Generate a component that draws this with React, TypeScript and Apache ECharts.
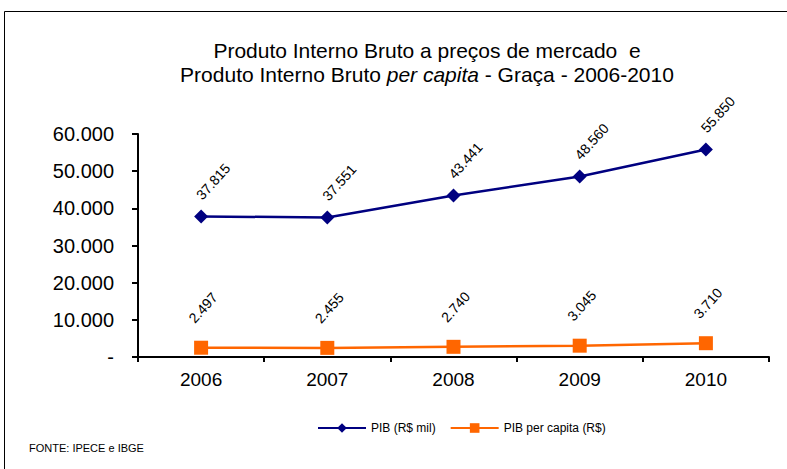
import React, { useEffect, useRef } from "react";
import * as echarts from "echarts";

const years = ["2006", "2007", "2008", "2009", "2010"];
const pibMil = [37815, 37551, 43441, 48560, 55850];
const pibPerCapita = [2497, 2455, 2740, 3045, 3710];
const yTicks = [0, 10000, 20000, 30000, 40000, 50000, 60000];

const fmt = (v: number) =>
  v === 0 ? "-" : String(Math.round(v)).replace(/\B(?=(\d{3})+(?!\d))/g, ".");

const FONT = "Liberation Sans, Arial, sans-serif";

const labelSeries = (values: number[], dx: number, dy: number) => ({
  type: "custom",
  silent: true,
  data: values.map((v, i) => [i, v]),
  renderItem: (_params: any, api: any) => {
    const p = api.coord([api.value(0), api.value(1)]);
    return {
      type: "text",
      x: p[0] + dx,
      y: p[1] + dy,
      rotation: (48 * Math.PI) / 180,
      style: {
        text: fmt(api.value(1)),
        font: `14px ${FONT}`,
        fill: "#000",
        align: "center",
        verticalAlign: "middle",
      },
    };
  },
  z: 5,
});

export default function App() {
  const ref = useRef<HTMLDivElement>(null);
  useEffect(() => {
    if (!ref.current) return;
    const chart = echarts.init(ref.current, undefined, { renderer: "svg" });
    chart.setOption({
      animation: false,
      backgroundColor: "#ffffff",
      textStyle: { fontFamily: FONT, color: "#000" },
      graphic: [
        {
          type: "rect",
          shape: { x: 4.5, y: 11.5, width: 800, height: 500 },
          style: { fill: "none", stroke: "#000", lineWidth: 1 },
          silent: true,
        },
        {
          type: "text",
          left: 29,
          top: 442,
          style: {
            text: "FONTE: IPECE e IBGE",
            font: `11px ${FONT}`,
            fill: "#000",
          },
        },
      ],
      title: {
        text: "Produto Interno Bruto a preços de mercado  e\nProduto Interno Bruto {i|per capita} - Graça - 2006-2010",
        left: 422,
        top: 33,
        textAlign: "center",
        textStyle: {
          fontFamily: FONT,
          fontSize: 21,
          fontWeight: "normal",
          color: "#000",
          lineHeight: 24,
          rich: {
            i: { fontFamily: FONT, fontSize: 21, fontStyle: "italic", color: "#000", lineHeight: 24 },
          },
        },
      },
      legend: {
        left: 312,
        top: 417,
        itemWidth: 48,
        itemHeight: 12,
        itemGap: 14,
        textStyle: { fontFamily: FONT, fontSize: 12, color: "#000" },
        data: ["PIB (R$ mil)", "PIB per capita (R$)"],
      },
      grid: { left: 138, right: 18, top: 134, bottom: 112 },
      xAxis: {
        type: "category",
        data: years,
        boundaryGap: true,
        axisLine: { lineStyle: { color: "#000", width: 2 } },
        axisTick: { show: true, length: 5, lineStyle: { color: "#000", width: 2 } },
        axisLabel: { fontFamily: FONT, fontSize: 19, color: "#000", margin: 13 },
      },
      yAxis: {
        type: "value",
        min: yTicks[0],
        max: yTicks[yTicks.length - 1],
        interval: 10000,
        axisLine: { show: true, lineStyle: { color: "#000", width: 2 } },
        axisTick: { show: true, length: 6, lineStyle: { color: "#000", width: 2 } },
        splitLine: { show: false },
        axisLabel: {
          fontFamily: FONT,
          fontSize: 20,
          color: "#000",
          margin: 24,
          formatter: (v: number) => fmt(v),
        },
      },
      series: [
        {
          name: "PIB (R$ mil)",
          type: "line",
          data: pibMil,
          symbol: "diamond",
          symbolSize: 14,
          lineStyle: { color: "#000080", width: 2.5 },
          itemStyle: { color: "#000080" },
        },
        {
          name: "PIB per capita (R$)",
          type: "line",
          data: pibPerCapita,
          symbol: "rect",
          symbolSize: 14,
          lineStyle: { color: "#FF6600", width: 2.5 },
          itemStyle: { color: "#FF6600" },
        },
        labelSeries(pibMil, 12, -35),
        labelSeries(pibPerCapita, 2, -40),
      ],
    });
    return () => chart.dispose();
  }, []);
  return (
    <div
      ref={ref}
      style={{ position: "fixed", left: 0, top: 0, width: 787, height: 469 }}
    />
  );
}
